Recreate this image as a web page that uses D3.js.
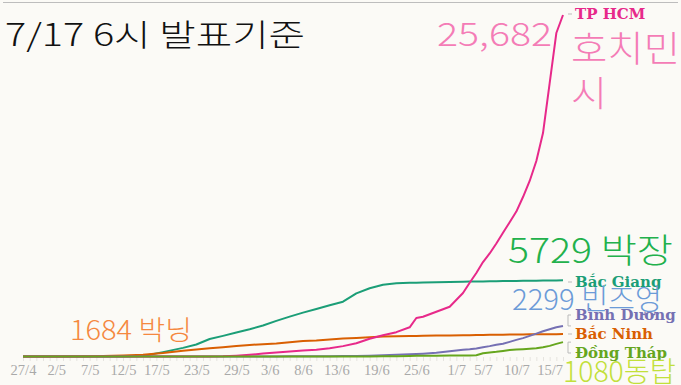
<!DOCTYPE html>
<html>
<head>
<meta charset="utf-8">
<script src="https://cdn.jsdelivr.net/npm/d3@7"></script>
<style>
  html, body { margin: 0; padding: 0; background: #fbfaf6; }
  svg { display: block; }
  .tick-lab text { font-family: "Liberation Serif", serif; font-size: 14.5px; fill: #a9a9a9; }
  .series-lab { font-family: "DejaVu Serif", serif; font-weight: bold; font-size: 15px; }
  .big { font-family: "Noto Sans CJK KR", "Noto Sans", sans-serif; font-weight: 300; }
</style>
</head>
<body>
<div id="chart"></div>
<script>
// dates (2021) shared by every series
var dates = ["27/4","2/5","7/5","9/5","12/5","15/5","18/5","21/5","23/5","25/5","27/5","29/5","31/5",
  "2/6","4/6","6/6","8/6","10/6","12/6","14/6","16/6","18/6","20/6","22/6","24/6","25/6","26/6","28/6","30/6",
  "2/7","3/7","4/7","5/7","6/7","7/7","8/7","9/7","10/7","11/7","12/7","13/7","14/7","15/7","16/7","17/7"];

var hcm = [0,0,0,0,0,0,0,0,0,0,10,60,130,
  220,300,380,450,500,620,780,1000,1330,1600,1830,2196,2895,2993,3369,3745,
  4775,5550,6279,7100,7750,8500,9300,10100,10900,11994,13200,14700,16807,20567,24327,25682];
var bacGiang = [0,0,0,0,0,40,330,650,900,1316,1550,1800,2050,
  2330,2680,3000,3300,3570,3850,4121,4750,5130,5400,5505,5540,5550,5570,5590,5610,
  5625,5632,5640,5648,5655,5662,5670,5677,5684,5690,5697,5703,5710,5716,5722,5729];
var bacNinh = [0,0,10,30,80,130,260,436,530,617,700,790,865,
  930,985,1080,1170,1200,1280,1350,1400,1450,1495,1520,1540,1550,1558,1570,1580,
  1595,1600,1612,1620,1628,1635,1642,1648,1654,1660,1665,1670,1674,1678,1681,1684];
var binhDuong = [0,0,0,0,0,0,0,0,0,0,0,0,0,
  0,5,10,15,20,25,30,40,60,90,130,170,190,215,280,400,
  500,541,600,700,780,880,960,1100,1250,1380,1550,1720,1900,2050,2200,2299];
var dongThap = [0,0,0,0,0,0,0,0,0,0,0,0,0,
  0,0,0,0,0,0,0,0,5,10,20,40,50,55,60,70,
  75,80,100,240,300,350,420,480,520,550,580,617,700,800,950,1080];

var tickDates = ["27/4","2/5","7/5","12/5","17/5","23/5","29/5","3/6","8/6","13/6","19/6","25/6","1/7","5/7","10/7","15/7"];

var series = [
  { name: "Bắc Giang", values: bacGiang, color: "#1b9e77", labelY: 282 },
  { name: "Bắc Ninh", values: bacNinh, color: "#d95f02", labelY: 334 },
  { name: "Bình Dương", values: binhDuong, color: "#7570b3", labelY: 315 },
  { name: "TP HCM", values: hcm, color: "#e7298a", labelY: 14 },
  { name: "Đồng Tháp", values: dongThap, color: "#66a61e", labelY: 353 }
];

var W = 681, H = 385;
var parse = d3.timeParse("%d/%m/%Y");
function toDate(s) { return parse(s + "/2021"); }

var svg = d3.select("#chart").append("svg")
  .attr("width", W)
  .attr("height", H);

svg.append("rect").attr("width", W).attr("height", H).attr("fill", "#fbfaf6");

// thin rule on top
svg.append("line")
  .attr("x1", 3).attr("x2", 678).attr("y1", 2.5).attr("y2", 2.5)
  .attr("stroke", "#bdbdbd").attr("stroke-width", 1.2);

var x = d3.scaleTime()
  .domain([toDate("27/4"), toDate("17/7")])
  .range([23, 563]);
var y = d3.scaleLinear()
  .domain([0, 25682])
  .range([356.5, 15]);

// daily minor ticks
var minor = svg.append("g")
  .attr("transform", "translate(0,357)")
  .call(d3.axisBottom(x).ticks(d3.timeDay.every(1)).tickSize(4).tickFormat(""));
minor.select(".domain").remove();
minor.selectAll("line").attr("stroke", "#e6e4df");

var fmt = d3.timeFormat("%-d/%-m");
var axis = svg.append("g")
  .attr("class", "tick-lab")
  .attr("transform", "translate(0,362)")
  .call(d3.axisBottom(x).tickValues(tickDates.map(toDate)).tickSize(0).tickFormat(fmt));
axis.select(".domain").remove();

var line = d3.line()
  .x(function (d) { return x(d.date); })
  .y(function (d) { return y(d.v); });

series.forEach(function (s) {
  var pts = dates.map(function (dt, i) { return { date: toDate(dt), v: s.values[i] }; });
  svg.append("path")
    .datum(pts)
    .attr("fill", "none")
    .attr("stroke", s.color)
    .attr("stroke-width", 2)
    .attr("stroke-linejoin", "round")
    .attr("d", line);

  var last = pts[pts.length - 1];
  var ex = x(last.date), ey = y(last.v);
  var cx = ex + 5;
  // connector from line end to its label
  if (Math.abs(ey - s.labelY) > 3) {
    svg.append("path")
      .attr("fill", "none")
      .attr("stroke", "#bbb")
      .attr("d", "M" + (cx + 3) + "," + ey + "H" + cx + "V" + s.labelY + "H" + (cx + 3));
  } else {
    svg.append("line")
      .attr("x1", cx).attr("x2", cx + 4)
      .attr("y1", s.labelY).attr("y2", s.labelY)
      .attr("stroke", "#bbb");
  }
  svg.append("text")
    .attr("class", "series-lab")
    .attr("x", cx + 7)
    .attr("y", s.labelY)
    .attr("dy", "0.35em")
    .attr("fill", s.color)
    .text(s.name);
});

// big Korean annotations
var notes = [
  { t: "7/17 6시 발표기준", x: 5, y: 46, size: 31, color: "#111", anchor: "start", w: 300 },
  { t: "25,682", x: 552, y: 46, size: 33, color: "#f47cb6", anchor: "end", w: 115 },
  { t: "호치민", x: 571, y: 62, size: 36, color: "#f47cb6", anchor: "start", w: 109 },
  { t: "시", x: 571, y: 107, size: 36, color: "#f47cb6", anchor: "start", w: 36 },
  { t: "5729 박장", x: 508, y: 263, size: 34, color: "#22b14c", anchor: "start", w: 165 },
  { t: "2299 빈즈엉", x: 512, y: 310, size: 29, color: "#6b9bd8", anchor: "start", w: 150 },
  { t: "1684 박닝", x: 70, y: 340, size: 27, color: "#f5883f", anchor: "start", w: 122 },
  { t: "1080동탑", x: 563, y: 382, size: 28, color: "#c2e03a", anchor: "start", w: 113 }
];
svg.selectAll("text.big")
  .data(notes)
  .enter()
  .append("text")
  .attr("class", "big")
  .attr("x", function (d) { return d.x; })
  .attr("y", function (d) { return d.y; })
  .attr("font-size", function (d) { return d.size; })
  .attr("fill", function (d) { return d.color; })
  .attr("text-anchor", function (d) { return d.anchor; })
  .attr("textLength", function (d) { return d.w; })
  .attr("lengthAdjust", "spacingAndGlyphs")
  .text(function (d) { return d.t; });
</script>
</body>
</html>
